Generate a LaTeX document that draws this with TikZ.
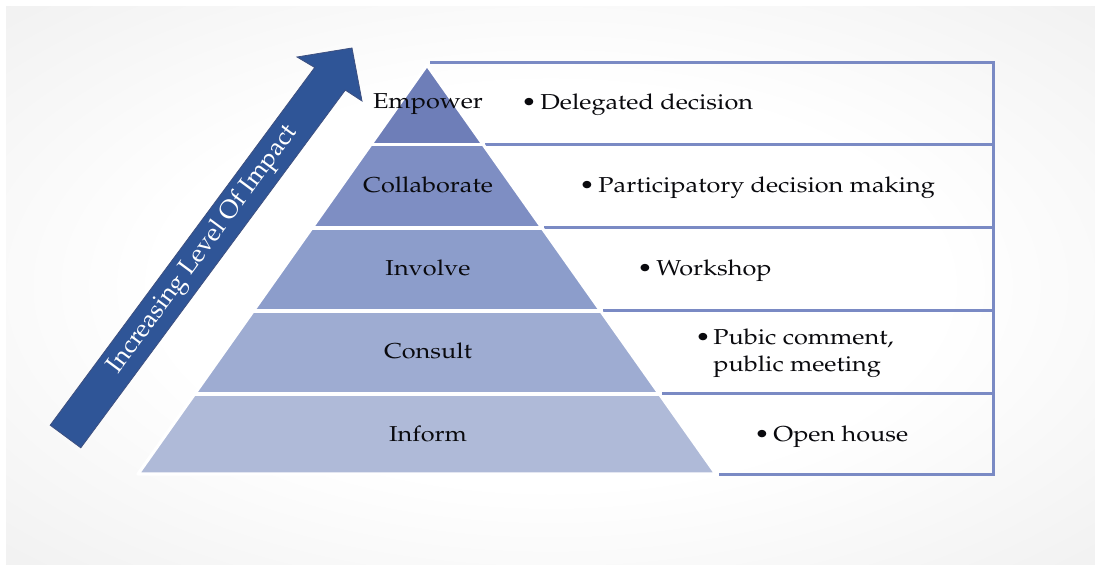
\documentclass[tikz,border=0pt]{standalone}
\usepackage[T1]{fontenc}
\renewcommand{\rmdefault}{ppl}
\usetikzlibrary{calc}

\definecolor{lvlA}{RGB}{110,126,184}
\definecolor{lvlB}{RGB}{126,142,195}
\definecolor{lvlC}{RGB}{140,157,203}
\definecolor{lvlD}{RGB}{158,172,210}
\definecolor{lvlE}{RGB}{175,186,216}
\definecolor{arrowblue}{RGB}{47,85,151}
\definecolor{arrowedge}{RGB}{62,80,128}
\definecolor{rulecol}{RGB}{122,138,196}
\definecolor{inkcol}{RGB}{10,10,14}
\definecolor{bgedge}{RGB}{230,230,230}
\definecolor{bgcorner}{RGB}{218,218,218}

% slide backdrop: white centre fading to grey at the borders
\pgfdeclareradialshading{slidebg}{\pgfpoint{0bp}{0bp}}{%
  color(0bp)=(white); color(18bp)=(white); color(50bp)=(bgedge); color(71bp)=(bgcorner)}

\newcommand{\widetext}[1]{\scalebox{1.17}[1]{#1}}

\tikzset{
  level/.style={draw=white, line width=1.6pt, line join=round},
  tablerule/.style={draw=rulecol, line width=1.5pt},
  lvltext/.style={font=\fontsize{10.8}{13}\selectfont, text=inkcol, anchor=base, inner sep=0pt},
  itemtext/.style={font=\fontsize{10.8}{13}\selectfont, text=inkcol, anchor=base west, inner sep=0pt},
  arrowtext/.style={font=\fontsize{12.6}{15}\selectfont, text=white, inner sep=0pt}
}

\begin{document}
\begin{tikzpicture}[x=0.5pt,y=-0.5pt]
\useasboundingbox (0,0) rectangle (1095,565);
\fill[white] (0,0) rectangle (1095,565);
\shade[shading=slidebg] (6,7) rectangle (1095,565);

% table rules to the right of the pyramid
\draw[tablerule] (430,62.5) -- (993,62.5) -- (993,474.5) -- (719,474.5);
\draw[tablerule] (485,144.5) -- (993,144.5);
\draw[tablerule] (544,227.5) -- (993,227.5);
\draw[tablerule] (603,310.5) -- (993,310.5);
\draw[tablerule] (662,393.5) -- (993,393.5);

% pyramid levels
\coordinate (apex) at (427,65);
\coordinate (bl) at (138,474);
\coordinate (br) at (716,474);
\fill[lvlA] (apex) -- ($(apex)!0.1936!(br)$) -- ($(apex)!0.1936!(bl)$) -- cycle;
\fill[lvlB] ($(apex)!0.1936!(bl)$) -- ($(apex)!0.1936!(br)$) -- ($(apex)!0.3985!(br)$) -- ($(apex)!0.3985!(bl)$) -- cycle;
\fill[lvlC] ($(apex)!0.3985!(bl)$) -- ($(apex)!0.3985!(br)$) -- ($(apex)!0.6015!(br)$) -- ($(apex)!0.6015!(bl)$) -- cycle;
\fill[lvlD] ($(apex)!0.6015!(bl)$) -- ($(apex)!0.6015!(br)$) -- ($(apex)!0.8044!(br)$) -- ($(apex)!0.8044!(bl)$) -- cycle;
\fill[lvlE] ($(apex)!0.8044!(bl)$) -- ($(apex)!0.8044!(br)$) -- (br) -- (bl) -- cycle;
\draw[level] (apex) -- (br) -- (bl) -- cycle;
\foreach \t in {0.1936,0.3985,0.6015,0.8044}
  \draw[level] ($(apex)!\t!(bl)$) -- ($(apex)!\t!(br)$);

% impact arrow
\filldraw[fill=arrowblue, draw=arrowedge, line width=0.4pt, line join=miter]
  (50.2,425.2) -- (314.7,67.5) -- (297,57) -- (352,48) -- (362,101)
  -- (345.3,90.1) -- (80.8,447.8) -- cycle;
\node[arrowtext, rotate=53.5] (impact) at (203,250) {Increasing Level Of Impact};

% level names
\node[lvltext] (empower) at (428,109) {\widetext{Empower}};
\node[lvltext] (collaborate) at (428,193) {\widetext{Collaborate}};
\node[lvltext] (involve) at (428,276) {\widetext{Involve}};
\node[lvltext] (consult) at (428,359) {\widetext{Consult}};
\node[lvltext] (inform) at (428,442) {\widetext{Inform}};

% examples for each level
\node[itemtext] (bulA) at (521,110) {\widetext{\textbullet}};
\node[itemtext] (itemA) at (540,110) {\widetext{Delegated decision}};
\node[itemtext] (bulB) at (579,193) {\widetext{\textbullet}};
\node[itemtext] (itemB) at (598,193) {\widetext{Participatory decision making}};
\node[itemtext] (bulC) at (637,276) {\widetext{\textbullet}};
\node[itemtext] (itemC) at (656,276) {\widetext{Workshop}};
\node[itemtext] (bulD) at (695,345) {\widetext{\textbullet}};
\node[itemtext] (itemD) at (713,345) {\widetext{Pubic comment,}};
\node[itemtext] (itemDb) at (713,372) {\widetext{public meeting}};
\node[itemtext] (bulE) at (754,442) {\widetext{\textbullet}};
\node[itemtext] (itemE) at (773,442) {\widetext{Open house}};
\end{tikzpicture}
\end{document}
